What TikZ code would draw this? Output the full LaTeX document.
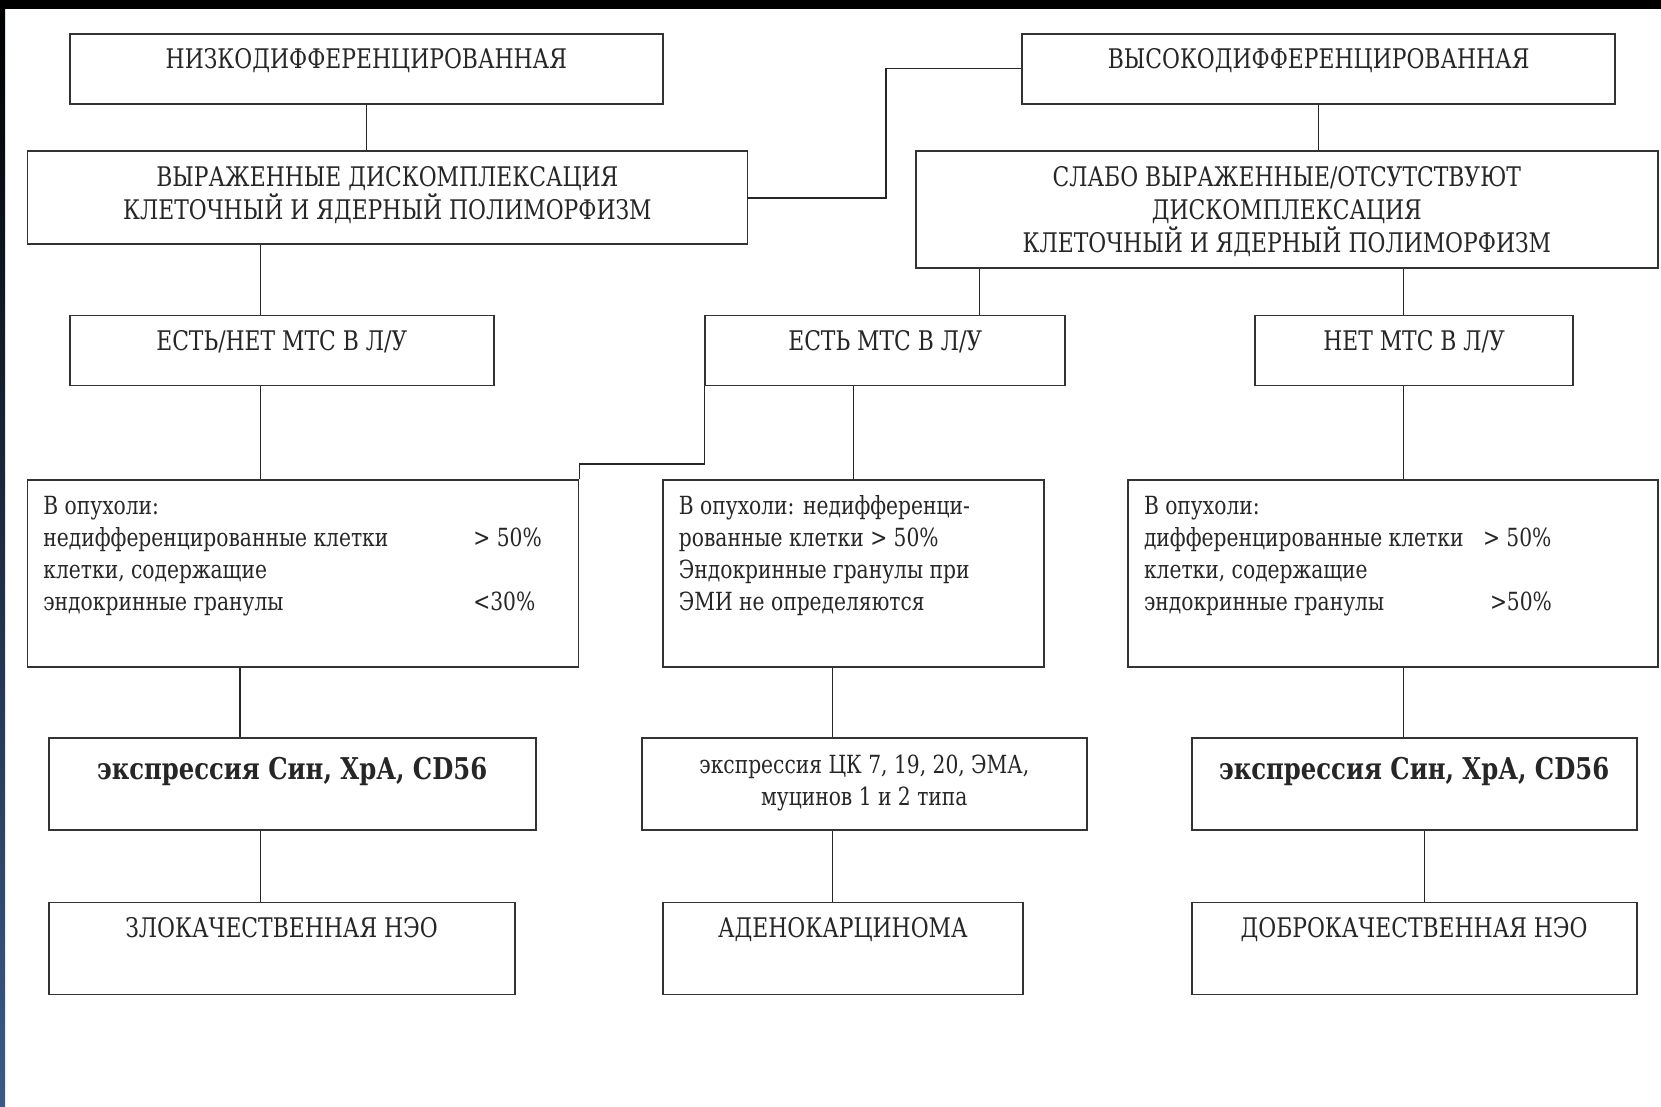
\documentclass[tikz,border=0pt]{standalone}
\usepackage{fontspec}
\setmainfont{DejaVu Serif Condensed}[FakeStretch=0.9]
\usepackage{xcolor}
\usepackage{tikz}
\usetikzlibrary{positioning}

% box text: fixed size, text from the top
\newcommand{\ctxt}[3]{\parbox[c][#2][t]{#1}{\centering\rule{0pt}{35pt}#3}}
\newcommand{\ltxt}[3]{\parbox[c][#2][t]{#1}{\raggedright\leftskip=16pt\rule{0pt}{35pt}#3}}

\begin{document}
\begin{tikzpicture}[x=1pt,y=-1pt,
  box/.style={draw=black!80,line width=1.8pt,fill=white,inner sep=0pt,anchor=north west,
    text=black!85,font=\fontsize{27}{33}\selectfont},
  txt/.style={font=\fontsize{25}{32}\selectfont},
  bld/.style={font=\fontsize{30}{33}\selectfont\bfseries},
  line/.style={line width=1.5pt,black!85}]
  \fill[white](0,0) rectangle (1661,1107);
  \fill[black](0,0) rectangle (1661,9);
  \shade[top color=black,bottom color={rgb,255:red,60;green,90;blue,135}](0,0) rectangle (5,1107);
  \useasboundingbox (0,0) rectangle (1661,1107);

  \node[box](low) at (68.9,32.8){\ctxt{593pt}{70pt}{НИЗКОДИФФЕРЕНЦИРОВАННАЯ}};
  \node[box](high) at (1021.2,32.8){\ctxt{593pt}{70pt}{ВЫСОКОДИФФЕРЕНЦИРОВАННАЯ}};
  \node[box](lowfeat) at (26.5,150.4){\ctxt{720pt}{93pt}{ВЫРАЖЕННЫЕ ДИСКОМПЛЕКСАЦИЯ\\КЛЕТОЧНЫЙ И ЯДЕРНЫЙ ПОЛИМОРФИЗМ}};
  \node[box](highfeat) at (915.2,150.4){\ctxt{741.5pt}{116.5pt}{СЛАБО ВЫРАЖЕННЫЕ/ОТСУТСТВУЮТ\\ДИСКОМПЛЕКСАЦИЯ\\КЛЕТОЧНЫЙ И ЯДЕРНЫЙ ПОЛИМОРФИЗМ}};
  \node[box](mtsany) at (68.9,314.6){\ctxt{424pt}{70pt}{ЕСТЬ/НЕТ МТС В Л/У}};
  \node[box](mtsyes) at (704.4,314.6){\ctxt{360pt}{70pt}{ЕСТЬ МТС В Л/У}};
  \node[box](mtsno) at (1254.2,314.6){\ctxt{318pt}{70pt}{НЕТ МТС В Л/У}};
  \node[box,txt](cellsL) at (26.5,478.8){\ltxt{551pt}{187.5pt}{В опухоли:\\
    \makebox[430pt][l]{недифференцированные клетки}> 50\%\\
    клетки, содержащие\\
    \makebox[430pt][l]{эндокринные гранулы}<30\%}};
  \node[box,txt](cellsM) at (662,478.8){\ltxt{381pt}{187.5pt}{В опухоли: недифференци-\\
    рованные клетки > 50\%\\
    Эндокринные гранулы при\\
    ЭМИ не определяются}};
  \node[box,txt](cellsR) at (1127.1,478.8){\ltxt{530pt}{187.5pt}{В опухоли:\\
    \makebox[339pt][l]{дифференцированные клетки}> 50\%\\
    клетки, содержащие\\
    \makebox[346pt][l]{эндокринные гранулы}>50\%}};
  \node[box,bld](exprL) at (47.7,737.3){\ctxt{487pt}{92pt}{\rule{0pt}{41pt}экспрессия Син, ХрА, CD56}};
  \node[box,txt](exprM) at (640.9,737.3){\ctxt{445pt}{92pt}{экспрессия ЦК 7, 19, 20, ЭМА,\\муцинов 1 и 2 типа}};
  \node[box,bld](exprR) at (1190.7,737.3){\ctxt{445pt}{92pt}{\rule{0pt}{41pt}экспрессия Син, ХрА, CD56}};
  \node[box](malig) at (47.7,901.5){\ctxt{466pt}{92pt}{ЗЛОКАЧЕСТВЕННАЯ НЭО}};
  \node[box](adeno) at (662,901.5){\ctxt{360pt}{92pt}{АДЕНОКАРЦИНОМА}};
  \node[box](benign) at (1190.7,901.5){\ctxt{445pt}{92pt}{ДОБРОКАЧЕСТВЕННАЯ НЭО}};

  \draw[line](low.south)--(low.south |- lowfeat.north);
  \draw[line](lowfeat.east)--++(137.7,0) |- (high.west);
  \draw[line](high.south)--(high.south |- highfeat.north);
  \draw[line]([xshift=-21.2pt]mtsany.north)--([xshift=-21.2pt]mtsany.north |- lowfeat.south);
  \draw[line]([xshift=94.3pt]mtsyes.north)--([xshift=94.3pt]mtsyes.north |- highfeat.south);
  \draw[line]([xshift=-10.6pt]mtsno.north)--([xshift=-10.6pt]mtsno.north |- highfeat.south);
  \draw[line]([xshift=-21.2pt]mtsany.south)--([xshift=-21.2pt]mtsany.south |- cellsL.north);
  \draw[line](mtsyes.south west)--++(0,77.4) -| (cellsL.north east);
  \draw[line](cellsM.north)--(cellsM.north |- mtsyes.south);
  \draw[line]([xshift=-10.6pt]mtsno.south)--([xshift=-10.6pt]mtsno.south |- cellsR.north);
  \draw[line]([xshift=-52.3pt]exprL.north)--([xshift=-52.3pt]exprL.north |- cellsL.south);
  \draw[line]([xshift=-31.7pt]exprM.north)--([xshift=-31.7pt]exprM.north |- cellsM.south);
  \draw[line]([xshift=-10.6pt]exprR.north)--([xshift=-10.6pt]exprR.north |- cellsR.south);
  \draw[line]([xshift=-21.2pt]malig.north)--([xshift=-21.2pt]malig.north |- exprL.south);
  \draw[line]([xshift=-10.5pt]adeno.north)--([xshift=-10.5pt]adeno.north |- exprM.south);
  \draw[line]([xshift=10.6pt]benign.north)--([xshift=10.6pt]benign.north |- exprR.south);
\end{tikzpicture}
\end{document}
